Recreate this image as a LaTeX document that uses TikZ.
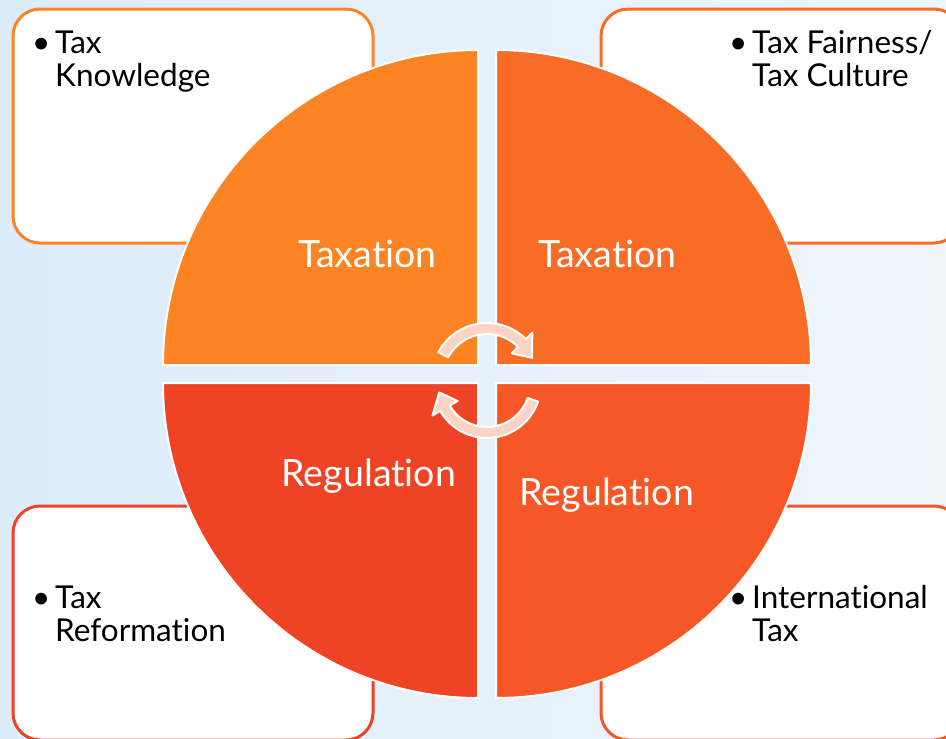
\documentclass[tikz,border=0pt]{standalone}
\usepackage{fontspec}
\setmainfont{Lato}[Ligatures={NoCommon}]
\definecolor{qTL}{HTML}{FE8323}
\definecolor{qTR}{HTML}{F96C26}
\definecolor{qBL}{HTML}{EF4326}
\definecolor{qBR}{HTML}{F65726}
\definecolor{arrowfill}{HTML}{FBD4C6}
\definecolor{bgL}{HTML}{DCECF9}
\definecolor{bgR}{HTML}{EEF6FC}
\newcommand\bul{\makebox[23pt][l]{\textbullet}}
\begin{document}
\begin{tikzpicture}[x=1pt,y=-1pt,
  box/.style={rounded corners=27pt, line width=3pt, fill=white, minimum width=360pt, minimum height=234pt, inner sep=0pt},
  quad/.style={draw=white, line width=2pt},
  item/.style={anchor=base west, inner sep=0pt, font=\fontsize{31.5}{33}\selectfont, text=black},
  lbl/.style={anchor=base, inner sep=0pt, font=\fontsize{37.5}{40}\selectfont, text=white},
  cyc/.style={fill=arrowfill, draw=white, line width=2pt, line join=round}]
\useasboundingbox (0,0) rectangle (946,739);
\shade[left color=bgL, right color=bgR] (0,0) rectangle (946,739);
% corner boxes
\node[box, draw=qTL] (bTL) at (193,126) {};
\node[box, draw=qTR] (bTR) at (781,126) {};
\node[box, draw=qBL] (bBL) at (193,623) {};
\node[box, draw=qBR] (bBR) at (781,623) {};
% quadrants
\draw[quad, fill=qTL] (478,365) -- (163,365) arc[start angle=180, end angle=270, radius=315] -- cycle;
\draw[quad, fill=qTR] (496,365) -- (496,50) arc[start angle=270, end angle=360, radius=315] -- cycle;
\draw[quad, fill=qBL] (478,383) -- (163,383) arc[start angle=180, end angle=90, radius=315] -- cycle;
\draw[quad, fill=qBR] (496,383) -- (811,383) arc[start angle=0, end angle=90, radius=315] -- cycle;
% cycle arrows
\begin{scope}[shift={(487,378)}]
\draw[cyc] (-152:55) arc[start angle=-152, end angle=-45, radius=55] -- (-45:64) -- (-24:49.5) -- (-45:35) -- (-45:44) arc[start angle=-45, end angle=-152, radius=44] -- cycle;
\end{scope}
\begin{scope}[shift={(487,384)}]
\draw[cyc] (19:54) arc[start angle=19, end angle=150, radius=54] -- (150:63) -- (170:48.5) -- (150:34) -- (150:43) arc[start angle=150, end angle=19, radius=43] -- cycle;
\end{scope}
% quadrant labels
\node[lbl] (lTL) at (367.5,267.7) {Taxation};
\node[lbl] (lTR) at (607.5,267.7) {Taxation};
\node[lbl] (lBL) at (368.8,486.7) {Regulation};
\node[lbl] (lBR) at (606.7,505) {Regulation};
% box texts
\node[item] (tTL) at (32,53.3) {\begin{tabular}[t]{@{}l@{}l@{}}\bul & Tax\\ & Knowledge\end{tabular}};
\node[item] (tTR) at (729,53.3) {\begin{tabular}[t]{@{}l@{}l@{}}\bul & Tax Fairness/\\ & Tax Culture\end{tabular}};
\node[item] (tBL) at (32,608.3) {\begin{tabular}[t]{@{}l@{}l@{}}\bul & Tax\\ & Reformation\end{tabular}};
\node[item] (tBR) at (729,608.3) {\begin{tabular}[t]{@{}l@{}l@{}}\bul & International\\ & Tax\end{tabular}};
\end{tikzpicture}
\end{document}
